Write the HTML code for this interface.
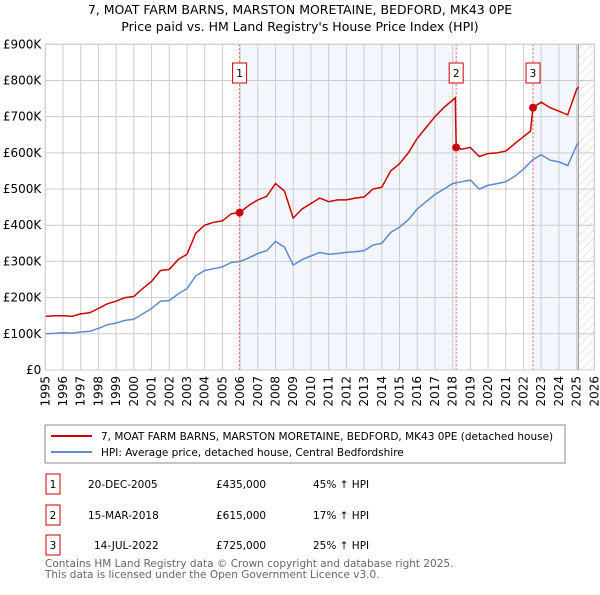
<!DOCTYPE html>
<html><head><meta charset="utf-8"><style>
body{margin:0;background:#fff;font-family:"Liberation Sans","DejaVu Sans",sans-serif}
svg text{font-family:"DejaVu Sans","Liberation Sans",sans-serif}
</style></head><body>
<svg id="chart" width="600" height="590" viewBox="0 0 600 590" xmlns="http://www.w3.org/2000/svg">
<text x="300" y="14" text-anchor="middle" font-size="12.5">7, MOAT FARM BARNS, MARSTON MORETAINE, BEDFORD, MK43 0PE</text>
<text x="300" y="31" text-anchor="middle" font-size="12.5">Price paid vs. HM Land Registry's House Price Index (HPI)</text>
<defs><pattern id="hatch" width="6" height="6" patternUnits="userSpaceOnUse" patternTransform="rotate(45)"><line x1="0" y1="0" x2="0" y2="6" stroke="#ccc" stroke-width="1"/></pattern></defs>
<g id="bg"></g><g id="grid"></g><g id="marks"></g><g id="axes"></g>
<g>
<rect x="45" y="425" width="520" height="38" fill="#fff" stroke="#888"/>
<line x1="51" y1="436" x2="92" y2="436" stroke="#cc0000" stroke-width="2"/>
<text x="101" y="440" font-size="10.5">7, MOAT FARM BARNS, MARSTON MORETAINE, BEDFORD, MK43 0PE (detached house)</text>
<line x1="51" y1="452" x2="92" y2="452" stroke="#5b8cd0" stroke-width="2"/>
<text x="101" y="456" font-size="10.5">HPI: Average price, detached house, Central Bedfordshire</text>
</g>
<g font-size="10.5">
<rect x="46" y="474" width="14" height="20" fill="#fff" stroke="#cc0000"/><text x="53" y="488" text-anchor="middle">1</text>
<text x="88" y="488">20-DEC-2005</text><text x="216" y="488">£435,000</text><text x="313" y="488">45% ↑ HPI</text>
<rect x="46" y="505" width="14" height="20" fill="#fff" stroke="#cc0000"/><text x="53" y="519" text-anchor="middle">2</text>
<text x="88" y="519">15-MAR-2018</text><text x="216" y="519">£615,000</text><text x="313" y="519">17% ↑ HPI</text>
<rect x="46" y="535" width="14" height="20" fill="#fff" stroke="#cc0000"/><text x="53" y="549" text-anchor="middle">3</text>
<text x="94" y="549">14-JUL-2022</text><text x="216" y="549">£725,000</text><text x="313" y="549">25% ↑ HPI</text>
</g>
<text x="45" y="567" font-size="10.5" fill="#666">Contains HM Land Registry data © Crown copyright and database right 2025.</text>
<text x="45" y="578" font-size="10.5" fill="#666">This data is licensed under the Open Government Licence v3.0.</text>
</svg>
<script>
const hpiYears=[1995,1995.5,1996,1996.5,1997,1997.5,1998,1998.5,1999,1999.5,2000,2000.5,2001,2001.5,2002,2002.5,2003,2003.5,2004,2004.5,2005,2005.5,2006,2006.5,2007,2007.5,2008,2008.5,2009,2009.5,2010,2010.5,2011,2011.5,2012,2012.5,2013,2013.5,2014,2014.5,2015,2015.5,2016,2016.5,2017,2017.5,2018,2018.5,2019,2019.5,2020,2020.5,2021,2021.5,2022,2022.5,2023,2023.5,2024,2024.5,2025,2025.1];
const hpiValues=[100,101,103,102,105,107,115,125,130,137,140,155,170,190,192,210,225,260,275,280,285,297,300,310,322,330,355,340,290,305,315,325,320,322,325,327,330,345,350,380,395,415,445,465,485,500,515,520,525,500,510,515,520,535,555,580,595,580,575,565,620,627];
const redYears=[1995,1995.5,1996,1996.5,1997,1997.5,1998,1998.5,1999,1999.5,2000,2000.5,2001,2001.5,2002,2002.5,2003,2003.5,2004,2004.5,2005,2005.5,2005.97,2006.5,2007,2007.5,2008,2008.5,2009,2009.5,2010,2010.5,2011,2011.5,2012,2012.5,2013,2013.5,2014,2014.5,2015,2015.5,2016,2016.5,2017,2017.5,2018.15,2018.2,2018.5,2019,2019.5,2020,2020.5,2021,2021.5,2022,2022.4,2022.54,2023,2023.5,2024,2024.5,2025,2025.1];
const redValues=[148,150,150,148,155,158,170,183,190,200,203,225,245,275,278,305,320,378,400,408,412,432,435,455,470,480,515,495,420,445,460,475,465,470,470,475,478,500,505,550,570,600,640,670,700,725,752,615,610,615,590,598,600,605,625,645,660,725,740,725,715,705,775,782];
const saleYears=[2005.97,2018.2,2022.54];
const saleValues=[435,615,725];
const saleLabels=["1","2","3"];
const yTicks=[0,100,200,300,400,500,600,700,800,900];
const yTickLabels=["£0","£100K","£200K","£300K","£400K","£500K","£600K","£700K","£800K","£900K"];
const xTicks=[1995,1996,1997,1998,1999,2000,2001,2002,2003,2004,2005,2006,2007,2008,2009,2010,2011,2012,2013,2014,2015,2016,2017,2018,2019,2020,2021,2022,2023,2024,2025,2026];
const X0=45.3,X1=594.3,Y0=370,Y1=44.3;
const x=y=>X0+(y-1995)/31*(X1-X0);
const yv=v=>Y0-v/900*(Y0-Y1);
const NS="http://www.w3.org/2000/svg";
function mk(parent,tag,attrs){const e=document.createElementNS(NS,tag);for(const k in attrs)e.setAttribute(k,attrs[k]);document.getElementById(parent).appendChild(e);return e;}
let r;
r=mk('bg','rect',{x:X0,y:Y1,width:X1-X0,height:Y0-Y1,fill:'#fff'});


r=mk('bg','rect',{x:x(saleYears[0]),y:Y1,width:x(saleYears[1])-x(saleYears[0]),height:Y0-Y1,fill:'#eef2fb',opacity:0.7});


r=mk('bg','rect',{x:x(saleYears[2]),y:Y1,width:x(2025.1)-x(saleYears[2]),height:Y0-Y1,fill:'#eef2fb',opacity:0.7});


r=mk('bg','rect',{x:x(2025.1),y:Y1,width:X1-x(2025.1),height:Y0-Y1,fill:'url(#hatch)'});


yTicks.forEach((t,i)=>{
 const l=mk('grid','line',{x1:X0,x2:X1,y1:yv(t),y2:yv(t),stroke:'#ccc','stroke-width':1});
 
 
 const tx=mk('axes','text',{x:X0-4,y:yv(t)+4,'text-anchor':'end','font-size':12});
 tx.textContent=yTickLabels[i];
 
 
});
xTicks.forEach(t=>{
 const l=mk('grid','line',{x1:x(t),x2:x(t),y1:Y1,y2:Y0,stroke:'#ccc','stroke-width':1});
 
 
 const tx=mk('axes','text',{x:0,y:0,'text-anchor':'end','font-size':12,transform:`translate(${x(t)+4},${Y0+6}) rotate(-90)`});
 tx.textContent=t;
 
 
});
r=mk('grid','line',{x1:x(2025.1),x2:x(2025.1),y1:Y1,y2:Y0,stroke:'#999','stroke-width':1.2});


saleYears.forEach((s,i)=>{
 const l=mk('marks','line',{x1:x(s),x2:x(s),y1:Y1,y2:Y0,stroke:'#e55','stroke-width':1,'stroke-dasharray':'2,2'});
 
 
});
const pts=(xs,vs)=>xs.map((a,i)=>x(a).toFixed(1)+','+yv(vs[i]).toFixed(1)).join(' ');
r=mk('marks','polyline',{points:pts(hpiYears,hpiValues),fill:'none',stroke:'#5b8cd0','stroke-width':1.5});


r=mk('marks','polyline',{points:pts(redYears,redValues),fill:'none',stroke:'#cc0000','stroke-width':1.5});


saleYears.forEach((s,i)=>{
 const c=mk('marks','circle',{cx:x(s),cy:yv(saleValues[i]),r:4,fill:'#cc0000'});
 
 
 const b=mk('marks','rect',{x:x(s)-7,y:63,width:14,height:20,fill:'#fff',stroke:'#cc0000'});
 
 
 const t=mk('marks','text',{x:x(s),y:77,'text-anchor':'middle','font-size':10.5});
 t.textContent=saleLabels[i];
 
 
});
r=mk('axes','rect',{x:X0,y:Y1,width:X1-X0,height:Y0-Y1,fill:'none',stroke:'#ccc'});


</script>
</body></html>
